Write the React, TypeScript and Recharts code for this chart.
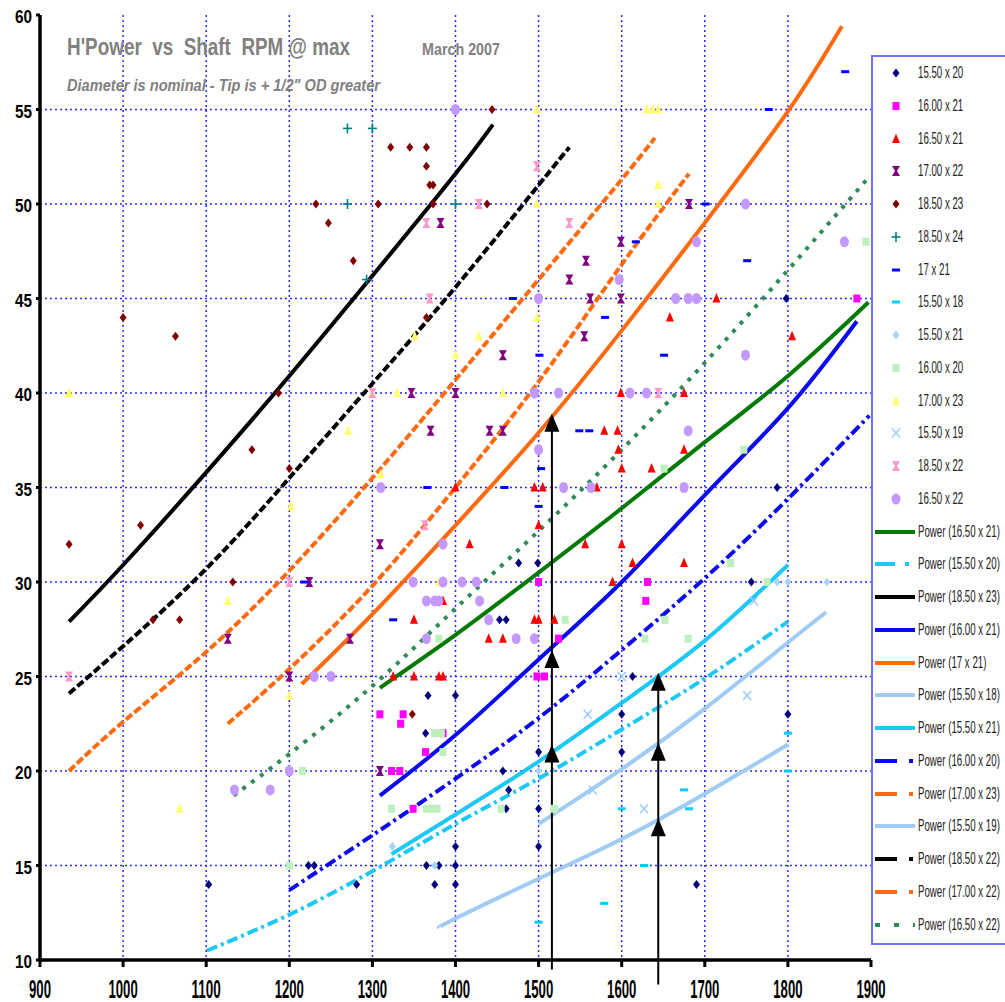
import {
    CartesianGrid,
    ComposedChart,
    Legend,
    Line,
    ReferenceDot,
    ReferenceLine,
    Scatter,
    XAxis,
    YAxis,
} from "recharts";

// ---- measured points (rpm, horsepower) ----
const sc1550x20 = [[1103,14],[1223,15],[1230,15],[1281,14],[1364,22],[1365,15],[1367,24],[1375,14],[1380,15],[1400,14],[1400,15],[1400,16],[1400,24],[1453,28],[1457,20],[1461,18],[1461,28],[1464,19],[1476,31],[1499,31],[1500,16],[1500,18],[1500,21],[1600,21],[1600,23],[1613,25],[1690,14],[1756,30],[1787,35],[1798,45],[1800,23]];
const sc1600x21 = [[1309,23],[1323,20],[1333,20],[1334,22.5],[1337,23],[1349,18],[1364,21],[1385,22],[1498,25],[1500,30],[1507,25],[1524,27],[1629,29],[1631,30],[1883,45]];
const sc1650x21 = [[1325,25],[1350,25],[1350,28],[1380,25],[1385,25],[1385,29],[1400,35],[1417,32],[1440,27],[1457,27],[1495,28],[1495,35],[1500,28],[1500,33],[1505,35],[1519,28],[1556,32],[1570,35],[1579,38],[1589,30],[1595,38],[1596,37],[1599,40],[1600,32],[1600,36],[1613,31],[1636,36],[1658,44],[1675,31],[1675,37],[1675,40],[1714,45],[1805,43]];
const sc1700x22 = [[1126,27],[1200,25],[1224,30],[1273,27],[1309,20],[1309,32],[1347,40],[1370,38],[1382,49],[1400,40],[1441,38],[1457,38],[1457,42],[1537,46],[1555,43],[1557,47],[1562,45],[1599,45],[1599,48],[1681,50]];
const sc1850x23 = [[935,32],[1000,44],[1021,33],[1036,28],[1063,43],[1068,28],[1132,30],[1155,37],[1187,40],[1200,36],[1232,50],[1247,49],[1277,47],[1307,50],[1322,53],[1345,53],[1348,23],[1365,44],[1365,52],[1365,53],[1369,51],[1373,50],[1373,51],[1438,50],[1444,55]];
const sc1850x24 = [[1270,50],[1270,54],[1293,46],[1300,54],[1400,50]];
const sc17x21 = [[1218,30],[1325,28],[1366,35],[1459,35],[1469,45],[1500,34],[1501,42],[1503,36],[1549,38],[1561,38],[1580,44],[1617,48],[1651,42],[1701,50],[1751,47],[1777,55],[1869,57]];
const sc1550x18 = [[1500,12],[1579,13],[1600,18],[1627,15],[1675,19],[1681,18],[1800,20],[1800,22]];
const sc1550x21 = [[1324,16],[1375,15],[1500,20],[1787,30],[1800,30],[1847,30]];
const sc1600x20 = [[1200,15],[1200,20],[1216,20],[1323,18],[1365,18],[1371,18],[1375,22],[1378,18],[1380,27],[1383,22],[1385,21],[1455,18],[1519,18],[1532,28],[1628,27],[1651,36],[1652,28],[1680,27],[1731,31],[1747,37],[1775,30],[1894,48]];
const sc1700x23 = [[935,40],[1068,18],[1126,29],[1200,24],[1202,34],[1271,38],[1300,40],[1310,35.7],[1330,40],[1351,43],[1380,30],[1400,42],[1428,43],[1457,40],[1498,44],[1498,50],[1498,55],[1630,55],[1637,55],[1644,50],[1644,51],[1644,55]];
const sc1550x19 = [[1559,23],[1565,19],[1600,25],[1627,18],[1751,24],[1759,29]];
const sc1850x22 = [[935,25],[1200,30],[1300,40],[1363,33],[1365,49],[1369,45],[1428,50],[1498,52],[1537,49],[1644,40]];
const sc1650x22 = [[1134,19],[1177,19],[1200,20],[1230,25],[1250,25],[1310,35],[1349,30],[1365,27],[1365,29],[1375,29],[1380,29],[1385,30],[1385,32],[1400,55],[1408,30],[1425,30],[1429,29],[1440,28],[1473,27],[1495,27],[1495,40],[1500,37],[1500,45],[1524,40],[1530,35],[1563,35],[1597,46],[1610,40],[1630,40],[1665,45],[1675,35],[1680,38],[1680,45],[1690,45],[1690,48],[1749,42],[1749,50],[1868,48]];

// ---- power trend lines ----
const pw1650x21 = [[1309,24.4],[1400,27.2],[1500,30.5],[1600,33.9],[1700,37.4],[1800,40.9],[1897,44.8]];
const pw1550x20 = [[1101,10.5],[1200,12.4],[1300,14.7],[1400,17.2],[1500,19.6],[1600,22.2],[1700,24.9],[1800,27.9]];
const pw1850x23 = [[935,27.9],[1000,30.9],[1100,35.8],[1200,40.9],[1300,46.2],[1400,51.6],[1445,54.2]];
const pw1600x21 = [[1309,18.7],[1400,21.9],[1500,25.9],[1600,30.0],[1700,34.6],[1800,39.2],[1883,43.8]];
const pw17x21 = [[1215,24.6],[1300,28.3],[1400,33.0],[1500,37.9],[1600,43.3],[1700,49.0],[1800,54.9],[1865,59.4]];
const pw1550x18 = [[1380,11.7],[1400,12.2],[1500,14.3],[1600,16.4],[1700,18.8],[1800,21.4]];
const pw1550x21 = [[1323,15.6],[1400,17.7],[1500,20.5],[1600,23.6],[1700,26.9],[1800,30.9]];
const pw1600x20 = [[1200,13.7],[1300,16.6],[1400,19.6],[1500,22.8],[1600,26.4],[1700,30.2],[1800,34.4],[1898,38.8]];
const pw1700x23 = [[935,20.0],[1000,22.6],[1100,26.3],[1200,30.6],[1300,35.5],[1400,40.7],[1500,46.0],[1600,51.3],[1640,53.5]];
const pw1550x19 = [[1500,17.2],[1600,20.1],[1700,23.3],[1800,26.8],[1846,28.4]];
const pw1850x22 = [[935,24.1],[1000,26.6],[1100,30.7],[1200,35.5],[1300,40.5],[1400,45.6],[1500,51.0],[1537,53.0]];
const pw1700x22 = [[1126,22.5],[1200,25.4],[1300,29.8],[1400,35.0],[1500,40.6],[1600,46.8],[1681,51.6]];
const pw1650x22 = [[1133,18.7],[1200,20.9],[1300,24.5],[1400,28.6],[1500,32.7],[1600,37.0],[1700,41.6],[1800,46.5],[1895,51.3]];

// annotation arrows: shaft x, bottom, top and the arrow heads
const arrowShafts = [[1516, 9.5, 38.9], [1644, 8.7, 25.2]];
const arrowHeads = [[1516,38.9],[1516,26.4],[1516,21.4],[1644,25.2],[1644,21.5],[1644,17.5]];

const xTicks = [900, 1000, 1100, 1200, 1300, 1400, 1500, 1600, 1700, 1800, 1900];
const yTicks = [10, 15, 20, 25, 30, 35, 40, 45, 50, 55, 60];

const pts = (a: number[][]) => a.map(([x, y]) => ({ x, y }));

const scatterSeries = [
    { name: "15.50 x 20", data: sc1550x20, color: "#000080", kind: "diamond" },
    { name: "16.00 x 21", data: sc1600x21, color: "#FF00FF", kind: "square" },
    { name: "16.50 x 21", data: sc1650x21, color: "#FF0000", kind: "triangle" },
    { name: "17.00 x 22", data: sc1700x22, color: "#800080", kind: "hourglass" },
    { name: "18.50 x 23", data: sc1850x23, color: "#800000", kind: "diamond" },
    { name: "18.50 x 24", data: sc1850x24, color: "#008080", kind: "plus" },
    { name: "17 x 21", data: sc17x21, color: "#0000FF", kind: "dash" },
    { name: "15.50 x 18", data: sc1550x18, color: "#00CCFF", kind: "dash" },
    { name: "15.50 x 21", data: sc1550x21, color: "#A8D4FA", kind: "diamond" },
    { name: "16.00 x 20", data: sc1600x20, color: "#BDF0BD", kind: "square" },
    { name: "17.00 x 23", data: sc1700x23, color: "#FFFF70", kind: "triangle" },
    { name: "15.50 x 19", data: sc1550x19, color: "#99CCFF", kind: "cross" },
    { name: "18.50 x 22", data: sc1850x22, color: "#FF99CC", kind: "hourglass" },
    { name: "16.50 x 22", data: sc1650x22, color: "#C399FF", kind: "circle" },
];

const lineSeries = [
    { name: "Power (16.50 x 21)", data: pw1650x21, color: "#007A00", dash: undefined, legendDash: undefined },
    { name: "Power (15.50 x 20)", data: pw1550x20, color: "#1EC8F5", dash: "11 4 3 4", legendDash: "20 10 4 6" },
    { name: "Power (18.50 x 23)", data: pw1850x23, color: "#000000", dash: undefined, legendDash: undefined },
    { name: "Power (16.00 x 21)", data: pw1600x21, color: "#0A0AF0", dash: undefined, legendDash: undefined },
    { name: "Power (17 x 21)", data: pw17x21, color: "#FF6A10", dash: undefined, legendDash: undefined },
    { name: "Power (15.50 x 18)", data: pw1550x18, color: "#9FCBF5", dash: undefined, legendDash: undefined },
    { name: "Power (15.50 x 21)", data: pw1550x21, color: "#1EC8F5", dash: undefined, legendDash: undefined },
    { name: "Power (16.00 x 20)", data: pw1600x20, color: "#0A0AF0", dash: "11 4 3 4", legendDash: "22 12 4 6" },
    { name: "Power (17.00 x 23)", data: pw1700x23, color: "#FF6A10", dash: "8 3", legendDash: "22 12 4 6" },
    { name: "Power (15.50 x 19)", data: pw1550x19, color: "#9FCBF5", dash: undefined, legendDash: undefined },
    { name: "Power (18.50 x 22)", data: pw1850x22, color: "#000000", dash: "8 3", legendDash: "22 12 4 6" },
    { name: "Power (17.00 x 22)", data: pw1700x22, color: "#FF6A10", dash: "8 3", legendDash: "22 12 4 6" },
    { name: "Power (16.50 x 22)", data: pw1650x22, color: "#2E8B57", dash: "4 7", legendDash: "5 14" },
];

function Marker({ kind, color, cx, cy }: { kind: string; color: string; cx: number; cy: number }) {
    switch (kind) {
        case "diamond":
            return <polygon points={`${cx},${cy - 4.5} ${cx + 3.5},${cy} ${cx},${cy + 4.5} ${cx - 3.5},${cy}`} fill={color} />;
        case "square":
            return <rect x={cx - 3.5} y={cy - 4} width={7} height={8} fill={color} />;
        case "triangle":
            return <polygon points={`${cx},${cy - 5.5} ${cx + 4},${cy + 4} ${cx - 4},${cy + 4}`} fill={color} />;
        case "hourglass":
            return (
                <polygon
                    points={`${cx - 4},${cy - 5} ${cx + 4},${cy - 5} ${cx + 1},${cy} ${cx + 4},${cy + 5} ${cx - 4},${cy + 5} ${cx - 1},${cy}`}
                    fill={color}
                />
            );
        case "plus":
            return (
                <g stroke={color} strokeWidth={1.6}>
                    <line x1={cx - 4.5} y1={cy} x2={cx + 4.5} y2={cy} />
                    <line x1={cx} y1={cy - 5} x2={cx} y2={cy + 5} />
                </g>
            );
        case "dash":
            return <rect x={cx - 4} y={cy - 1.5} width={8} height={3} fill={color} />;
        case "cross":
            return (
                <g stroke={color} strokeWidth={1.5}>
                    <line x1={cx - 4} y1={cy - 4.5} x2={cx + 4} y2={cy + 4.5} />
                    <line x1={cx + 4} y1={cy - 4.5} x2={cx - 4} y2={cy + 4.5} />
                </g>
            );
        default:
            return <ellipse cx={cx} cy={cy} rx={4.5} ry={5.5} fill={color} />;
    }
}

const legendFont = "'Liberation Sans', Arial, sans-serif";

function LegendBox() {
    const rowTop = (i: number) => 16 + i * 32.75 - 11;
    const label = { display: "inline-block", transform: "scaleX(0.57)", transformOrigin: "left center" };
    return (
        <div
            style={{
                position: "relative",
                width: 220,
                height: 886,
                borderLeft: "2px solid #7070FF",
                borderTop: "2px solid #7070FF",
                borderBottom: "2px solid #7070FF",
                background: "#fff",
                fontFamily: legendFont,
                fontSize: 17,
                color: "#222",
            }}
        >
            {scatterSeries.map((s, i) => (
                <div key={s.name} style={{ position: "absolute", left: 0, top: rowTop(i), height: 22, display: "flex", alignItems: "center", whiteSpace: "nowrap" }}>
                    <svg width={45} height={22}>
                        <Marker kind={s.kind} color={s.color} cx={23} cy={11} />
                    </svg>
                    <span style={label}>{s.name}</span>
                </div>
            ))}
            {lineSeries.map((s, j) => (
                <div key={s.name} style={{ position: "absolute", left: 0, top: rowTop(j + scatterSeries.length), height: 22, display: "flex", alignItems: "center", whiteSpace: "nowrap" }}>
                    <svg width={45} height={22}>
                        <line x1={2} y1={11} x2={42} y2={11} stroke={s.color} strokeWidth={4} strokeDasharray={s.legendDash} />
                    </svg>
                    <span style={label}>{s.name}</span>
                </div>
            ))}
        </div>
    );
}

const XTick = ({ x, y, payload }: any) => {
    const s = String(payload.value);
    return (
        <text x={x} y={y + 31} textAnchor="middle" fontFamily={legendFont} fontWeight="bold" fontSize={25} fill="#000" textLength={7.3 * s.length} lengthAdjust="spacingAndGlyphs">
            {s}
        </text>
    );
};

const YTick = ({ x, y, payload }: any) => {
    const s = String(payload.value);
    return (
        <text x={x} y={y + 8} textAnchor="end" fontFamily={legendFont} fontWeight="bold" fontSize={18} fill="#000" textLength={8.5 * s.length} lengthAdjust="spacingAndGlyphs">
            {s}
        </text>
    );
};

const ArrowHead = ({ cx, cy }: any) => (
    <polygon points={`${cx},${cy} ${cx + 7.5},${cy + 18} ${cx - 7.5},${cy + 18}`} fill="#000" />
);

export default function App() {
    return (
        <div style={{ position: "absolute", left: 0, top: 0, width: 1005, height: 1002, overflow: "hidden", background: "#fff" }}>
            <ComposedChart width={1005} height={1002} margin={{ top: 15, right: 0, bottom: 0, left: 0 }}>
                <CartesianGrid
                    stroke="#2A2AFF"
                    strokeWidth={1.5}
                    strokeDasharray="2 3"
                    horizontalValues={[15, 20, 25, 30, 35, 40, 45, 50, 55]}
                    verticalValues={[1000, 1100, 1200, 1300, 1400, 1500, 1600, 1700, 1800]}
                />
                <XAxis
                    type="number"
                    dataKey="x"
                    domain={[900, 1900]}
                    ticks={xTicks}
                    allowDataOverflow
                    height={42}
                    axisLine={{ stroke: "#000", strokeWidth: 3.5 }}
                    tickLine={{ stroke: "#000", strokeWidth: 3 }}
                    tickSize={7}
                    tickMargin={0}
                    tick={<XTick />}
                    interval={0}
                />
                <YAxis
                    type="number"
                    dataKey="y"
                    domain={[10, 60]}
                    ticks={yTicks}
                    allowDataOverflow
                    width={40}
                    axisLine={{ stroke: "#000", strokeWidth: 3.5 }}
                    tickLine={{ stroke: "#000", strokeWidth: 3 }}
                    tickSize={4}
                    tickMargin={4}
                    tick={<YTick />}
                    interval={0}
                />
                {scatterSeries.map((s) => (
                    <Scatter
                        key={s.name}
                        name={s.name}
                        data={pts(s.data)}
                        fill={s.color}
                        isAnimationActive={false}
                        shape={(p: any) => <Marker kind={s.kind} color={s.color} cx={p.cx} cy={p.cy} />}
                    />
                ))}
                {lineSeries.map((s) => (
                    <Line
                        key={s.name}
                        name={s.name}
                        data={pts(s.data)}
                        dataKey="y"
                        type="natural"
                        stroke={s.color}
                        strokeWidth={4}
                        strokeDasharray={s.dash}
                        dot={false}
                        activeDot={false}
                        isAnimationActive={false}
                    />
                ))}
                {arrowShafts.map(([x, y0, y1]) => (
                    <ReferenceLine
                        key={`shaft-${x}`}
                        segment={[{ x, y: y0 }, { x, y: y1 - 0.3 }]}
                        stroke="#000"
                        strokeWidth={2}
                        ifOverflow="visible"
                    />
                ))}
                {arrowHeads.map(([x, y]) => (
                    <ReferenceDot key={`head-${x}-${y}`} x={x} y={y} r={8} ifOverflow="visible" shape={<ArrowHead />} />
                ))}
                <Legend
                    layout="vertical"
                    align="right"
                    verticalAlign="top"
                    width={134}
                    wrapperStyle={{ top: 55, left: 871, width: 134, height: 890, overflow: "hidden" }}
                    content={() => <LegendBox />}
                />
            </ComposedChart>
            <svg width={1005} height={110} style={{ position: "absolute", left: 0, top: 0, pointerEvents: "none" }}>
                <text x={67} y={55} fontFamily={legendFont} fontWeight="bold" fontSize={24} fill="#808080" textLength={283} lengthAdjust="spacingAndGlyphs" style={{ whiteSpace: "pre" }}>
                    {"H'Power  vs  Shaft  RPM @ max"}
                </text>
                <text x={422} y={55} fontFamily={legendFont} fontWeight="bold" fontSize={17} fill="#808080" textLength={78} lengthAdjust="spacingAndGlyphs">
                    March 2007
                </text>
                <text x={67} y={91} fontFamily={legendFont} fontWeight="bold" fontStyle="italic" fontSize={17} fill="#808080" textLength={313} lengthAdjust="spacingAndGlyphs">
                    {'Diameter is nominal - Tip is + 1/2" OD greater'}
                </text>
            </svg>
        </div>
    );
}
